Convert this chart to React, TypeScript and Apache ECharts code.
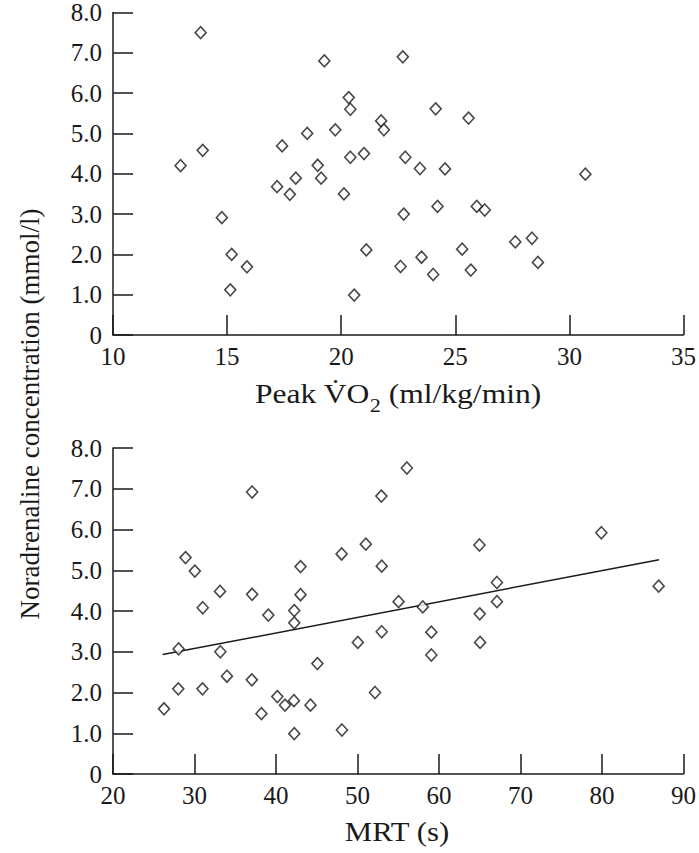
import React, { useEffect, useRef } from "react";
import * as echarts from "echarts";

// Top panel: Peak VO2 (ml/kg/min) vs noradrenaline (mmol/l)
const peakVO2: number[] = [
  13.84, 19.26, 22.7, 20.33, 20.4, 24.14, 25.58, 21.75, 21.87, 18.51, 19.74, 17.41,
  13.93, 12.96, 20.4, 21.0, 18.97, 22.81, 23.45, 24.55, 30.7, 18.01, 19.12, 17.19,
  17.75, 20.12, 14.77, 15.2, 15.87, 15.14, 21.1, 20.57, 22.74, 24.22, 25.94, 26.29,
  27.63, 28.36, 28.62, 25.3, 23.52, 22.6, 24.03, 25.68,
];
const noraTop: number[] = [
  7.5, 6.8, 6.9, 5.89, 5.6, 5.61, 5.38, 5.31, 5.09, 5.0, 5.09, 4.69,
  4.58, 4.2, 4.41, 4.5, 4.21, 4.41, 4.13, 4.12, 3.99, 3.89, 3.89, 3.68,
  3.49, 3.5, 2.91, 2.0, 1.69, 1.12, 2.11, 0.99, 3.0, 3.19, 3.19, 3.1,
  2.31, 2.4, 1.8, 2.13, 1.93, 1.7, 1.5, 1.61,
];

// Bottom panel: MRT (s) vs noradrenaline (mmol/l)
const mrt: number[] = [
  37.07, 52.93, 28.9, 30.04, 51.02, 48.05, 43.01, 52.97, 33.13, 37.07, 43.01, 31.01,
  39.06, 42.24, 42.24, 56.06, 79.92, 64.96, 67.11, 86.95, 55.04, 67.11, 58.01, 65.0,
  52.97, 59.06, 28.05, 33.17, 50.04, 45.08, 33.98, 37.03, 28.01, 30.98, 52.15, 40.16,
  42.2, 41.1, 44.23, 26.26, 38.21, 48.09, 42.24, 65.04, 59.06,
];
const noraBottom: number[] = [
  6.92, 6.82, 5.31, 4.98, 5.64, 5.4, 5.09, 5.1, 4.48, 4.41, 4.4, 4.08,
  3.9, 4.01, 3.71, 7.51, 5.92, 5.62, 4.7, 4.61, 4.23, 4.23, 4.1, 3.93,
  3.49, 3.48, 3.07, 3.0, 3.23, 2.71, 2.4, 2.31, 2.09, 2.09, 2.0, 1.9,
  1.8, 1.69, 1.69, 1.6, 1.48, 1.08, 0.99, 3.23, 2.92,
];

// Regression line endpoints (MRT, noradrenaline)
const fitX: number[] = [26.1, 87.0];
const fitY: number[] = [2.93, 5.26];

// Titles
const xTitleTop = "{n|Peak V\u0307O}{sub|2}{n| (ml/kg/min)}";
const xTitleBottom = "MRT (s)";
const yTitle = "Noradrenaline concentration (mmol/l)";

const FONT = "Liberation Serif";
const INK = "#1a1a1a";

export default function App() {
  const ref = useRef<HTMLDivElement>(null);

  useEffect(() => {
    document.body.style.margin = "0";
    if (!ref.current) return;
    const chart = echarts.init(ref.current, undefined, { renderer: "svg" });

    const axisLine = { show: true, lineStyle: { color: INK, width: 1.5 } };
    const axisTick = { show: true, inside: true, length: 20, lineStyle: { color: INK, width: 1.5 } };
    const xLabel = { color: INK, fontFamily: FONT, fontSize: 25, margin: 9 };
    const yLabel = {
      color: INK,
      fontFamily: FONT,
      fontSize: 25,
      margin: 11,
      formatter: (v: number) => (v === 0 ? "0" : v.toFixed(1)),
    };

    const option: any = {
      animation: false,
      backgroundColor: "#ffffff",
      textStyle: { fontFamily: FONT },
      grid: [
        { left: 113, right: 12, top: 8, height: 327 },
        { left: 113, right: 12, top: 448, height: 326 },
      ],
      xAxis: [
        {
          type: "value", gridIndex: 0, min: 10, max: 35, interval: 5,
          axisLine, axisTick, axisLabel: xLabel, splitLine: { show: false },
        },
        {
          type: "value", gridIndex: 1, min: 20, max: 90, interval: 10,
          axisLine, axisTick, axisLabel: xLabel, splitLine: { show: false },
        },
      ],
      yAxis: [
        {
          type: "value", gridIndex: 0, min: 0, max: 8, interval: 1,
          axisLine, axisTick, axisLabel: yLabel, splitLine: { show: false },
        },
        {
          type: "value", gridIndex: 1, min: 0, max: 8, interval: 1,
          axisLine, axisTick, axisLabel: yLabel, splitLine: { show: false },
        },
      ],
      graphic: [
        {
          type: "text",
          x: 30,
          y: 414,
          rotation: Math.PI / 2,
          style: {
            text: yTitle,
            fontFamily: FONT,
            fontSize: 27,
            fill: INK,
            textAlign: "center",
            textVerticalAlign: "middle",
          },
        },
        {
          type: "text",
          x: 398,
          y: 395,
          scaleX: 1.17,
          style: {
            text: xTitleTop,
            fontFamily: FONT,
            fontSize: 27,
            fill: INK,
            textAlign: "center",
            textVerticalAlign: "middle",
            rich: {
              n: { fontFamily: FONT, fontSize: 27, fill: INK, verticalAlign: "top", lineHeight: 30 },
              sub: {
                fontFamily: FONT, fontSize: 19, fill: INK, verticalAlign: "top",
                lineHeight: 22, padding: [16, 0, 0, 0],
              },
            },
          },
        },
        {
          type: "text",
          x: 397,
          y: 832,
          scaleX: 1.14,
          style: {
            text: xTitleBottom,
            fontFamily: FONT,
            fontSize: 27,
            fill: INK,
            textAlign: "center",
            textVerticalAlign: "middle",
          },
        },
      ],
      series: [
        {
          type: "scatter",
          xAxisIndex: 0,
          yAxisIndex: 0,
          symbol: "diamond",
          symbolSize: [11, 12],
          itemStyle: { color: "#ffffff", borderColor: INK, borderWidth: 1.6 },
          data: peakVO2.map((x, i) => [x, noraTop[i]]),
        },
        {
          type: "line",
          xAxisIndex: 1,
          yAxisIndex: 1,
          showSymbol: false,
          symbol: "none",
          lineStyle: { color: INK, width: 1.5 },
          data: fitX.map((x, i) => [x, fitY[i]]),
          z: 1,
        },
        {
          type: "scatter",
          xAxisIndex: 1,
          yAxisIndex: 1,
          symbol: "diamond",
          symbolSize: [11, 12],
          itemStyle: { color: "#ffffff", borderColor: INK, borderWidth: 1.6 },
          data: mrt.map((x, i) => [x, noraBottom[i]]),
          z: 3,
        },
      ],
    };

    chart.setOption(option);
    return () => chart.dispose();
  }, []);

  return (
    <div
      ref={ref}
      style={{ position: "absolute", left: 0, top: 0, width: 699, height: 853, background: "#fff" }}
    />
  );
}
